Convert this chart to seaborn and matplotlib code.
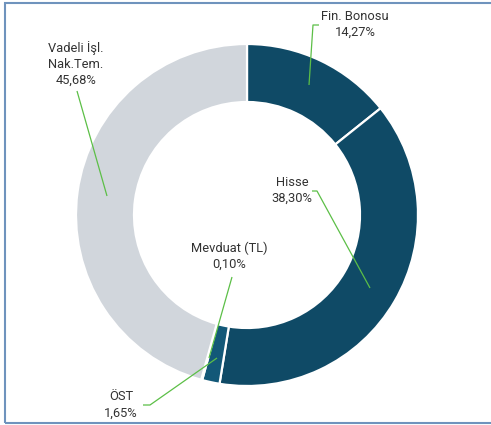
import matplotlib
matplotlib.use("Agg")
import matplotlib.pyplot as plt
import seaborn as sns
from matplotlib.patches import Rectangle

# Data
labels = ["Fin. Bonosu", "Hisse", "ÖST", "Mevduat (TL)", "Vadeli İşl.\nNak.Tem."]
values = [14.27, 38.30, 1.65, 0.10, 45.68]
colors = ["#0f4a66", "#0f4a66", "#135878", "#135878", "#d1d6dc"]

# label text position and leader line (pixel coords, y from top)
label_pos = [(355, 24), (292, 190), (121, 405), (229, 256), (76, 64)]
leaders = [
    [(319, 25), (313, 25), (309, 85)],
    [(312, 191), (317, 191), (370, 288)],
    [(143, 405), (150, 405), (217, 358)],
    [(232, 277), (209, 358)],
    [(77, 91), (107, 196)],
]

W, H = 491, 425


def fmt(v):
    return f"{v:.2f}".replace(".", ",") + "%"


sns.set_theme(style="white")
plt.rcParams["font.family"] = ["Roboto", "DejaVu Sans"]

fig = plt.figure(figsize=(W / 100, H / 100), dpi=100)
ax = fig.add_axes([0, 0, 1, 1])
ax.set_xlim(0, W)
ax.set_ylim(0, H)
ax.set_aspect("equal")
ax.axis("off")

ax.pie(values, colors=colors, startangle=90, counterclock=False,
       center=(247, H - 215), radius=171,
       wedgeprops=dict(width=58, edgecolor="white", linewidth=1.6))

# leader lines
for pts in leaders:
    xs = [p[0] for p in pts]
    ys = [H - p[1] for p in pts]
    ax.plot(xs, ys, color="#5cbf47", lw=0.9, solid_capstyle="butt")

for lab, v, (x, y) in zip(labels, values, label_pos):
    ax.text(x, H - y, f"{lab}\n{fmt(v)}", ha="center", va="center",
            fontsize=9.3, color="#333333", linespacing=1.3)

# outer frame
ax.add_patch(Rectangle((5, 2), W + 10, H - 5, fill=False,
                       edgecolor="#6f93bd", lw=1.5, clip_on=False))

ax.set_xlim(0, W)
ax.set_ylim(0, H)
fig.savefig("out.png", dpi=100)
